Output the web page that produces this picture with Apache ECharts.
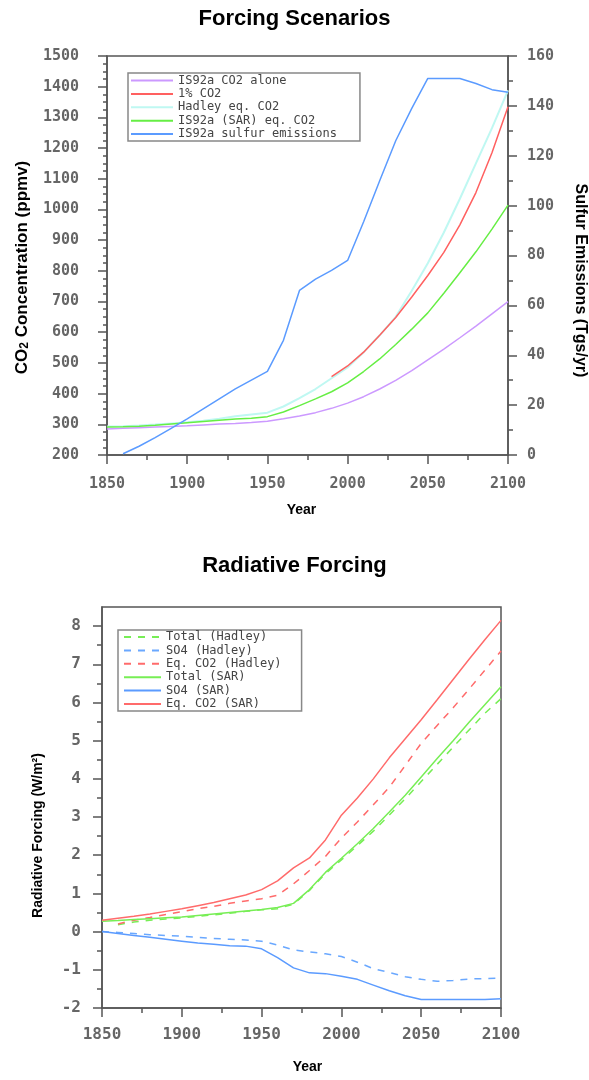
<!DOCTYPE html>
<html>
<head>
<meta charset="utf-8">
<script src="https://cdn.jsdelivr.net/npm/echarts@6/dist/echarts.min.js"></script>
<style>html,body{margin:0;padding:0;background:#fff;}#c{width:589px;height:1080px;}</style>
</head>
<body>
<div id="c"></div>
<script>
// ---------- Top chart: Forcing Scenarios ----------
const yearsTop = [1850,1860,1870,1880,1890,1900,1910,1920,1930,1940,1950,1960,1970,1980,1990,2000,2010,2020,2030,2040,2050,2060,2070,2080,2090,2100];
const co2Alone   = [285,287,289,291,293,295,298,301,303,306,310,318,327,338,352,369,390,415,443,475,510,545,582,620,660,700];
const onePctCO2  = [null,null,null,null,null,null,null,null,null,null,null,null,null,null,455,490,535,590,648,715,785,860,950,1055,1185,1335];
const hadleyEqCO2= [293,294,296,299,303,307,312,318,326,332,338,358,385,415,450,485,535,590,650,735,825,925,1035,1150,1265,1388];
const sarEqCO2   = [291,292,294,297,301,305,309,313,317,320,325,340,361,383,406,435,472,513,560,610,663,727,794,862,936,1014];
const sulfurEm   = [null,0.5,3.5,7,10.7,14.5,18.5,22.5,26.5,30,33.5,46,66,70.5,74,78,93.5,110,126,139,151,151,151,149,146.5,145.5];
const topNames = ['IS92a CO2 alone','1% CO2','Hadley eq. CO2','IS92a (SAR) eq. CO2','IS92a sulfur emissions'];
const leftTicks = [200,300,400,500,600,700,800,900,1000,1100,1200,1300,1400,1500];
const rightTicks = [0,20,40,60,80,100,120,140,160];

// ---------- Bottom chart: Radiative Forcing ----------
const yearsBot = [1850,1860,1870,1880,1890,1900,1910,1920,1930,1940,1950,1960,1970,1980,1990,2000,2010,2020,2030,2040,2050,2060,2070,2080,2090,2100];
const totalHadley = [null,0.18,0.25,0.30,0.33,0.36,0.40,0.44,0.48,0.53,0.57,0.60,0.72,1.08,1.52,1.88,2.25,2.63,3.05,3.48,3.93,4.38,4.83,5.28,5.72,6.10];
const so4Hadley   = [0,-0.02,-0.05,-0.08,-0.10,-0.12,-0.15,-0.18,-0.20,-0.22,-0.25,-0.35,-0.48,-0.53,-0.58,-0.65,-0.80,-0.97,-1.07,-1.18,-1.25,-1.30,-1.28,-1.24,-1.23,-1.22];
const eqHadley    = [null,0.20,0.30,0.37,0.45,0.52,0.60,0.66,0.74,0.80,0.86,0.95,1.25,1.60,1.97,2.45,2.87,3.32,3.78,4.35,4.93,5.40,5.86,6.35,6.85,7.35];
const totalSAR    = [0.27,0.29,0.32,0.34,0.36,0.38,0.42,0.46,0.50,0.54,0.58,0.63,0.74,1.10,1.55,1.92,2.30,2.70,3.13,3.57,4.05,4.53,5.00,5.48,5.95,6.41];
const so4SAR      = [0,-0.05,-0.10,-0.15,-0.20,-0.25,-0.30,-0.33,-0.37,-0.38,-0.45,-0.68,-0.95,-1.08,-1.10,-1.17,-1.25,-1.40,-1.55,-1.68,-1.78,-1.78,-1.78,-1.78,-1.78,-1.76];
const eqSAR       = [0.30,0.35,0.40,0.46,0.53,0.60,0.68,0.76,0.86,0.96,1.10,1.33,1.67,1.93,2.40,3.05,3.50,4.00,4.55,5.05,5.55,6.07,6.60,7.13,7.65,8.15];
const botNames = ['Total (Hadley)','SO4 (Hadley)','Eq. CO2 (Hadley)','Total (SAR)','SO4 (SAR)','Eq. CO2 (SAR)'];
const rfTicks = [-2,-1,0,1,2,3,4,5,6,7,8];

function pairs(xs, ys){ const out=[]; xs.forEach((x,i)=>{ if(ys[i]!==null && ys[i]!==undefined) out.push([x, ys[i]]); }); return out; }
const plain = v => String(v);

const AX = '#555';
const LBL = {fontFamily:'DejaVu Sans Mono', fontWeight:'bold', color:'#666', formatter:plain};

function xAxisCfg(grid, fs, margin, gap, pad){
  return {
    type:'value', gridIndex:grid, min:1850, max:2100, interval:50,
    axisLine:{show:true, onZero:false, lineStyle:{color:AX, width:1.5}},
    axisTick:{show:true, inside:false, length:9, lineStyle:{color:AX, width:1.5}},
    minorTick:{show:true, splitNumber:2, length:5, lineStyle:{color:AX, width:1.5}},
    splitLine:{show:false},
    axisLabel:Object.assign({fontSize:fs, margin:margin}, LBL),
    name:'Year', nameLocation:'middle', nameGap:gap,
    nameTextStyle:{fontFamily:'Liberation Sans', fontWeight:'bold', fontSize:14, color:'#000', padding:pad}
  };
}

const legendBase = {orient:'vertical', itemHeight:12, itemGap:1.4, backgroundColor:'#fff', borderColor:'#888',
  borderWidth:1.5, borderRadius:0, selectedMode:false, itemStyle:{opacity:0},
  textStyle:{fontFamily:'DejaVu Sans Mono', fontSize:12, color:'#444', lineHeight:12}};

const chart = echarts.init(document.getElementById('c'), null, {renderer:'canvas'});
chart.setOption({
  animation:false,
  backgroundColor:'#fff',
  title:[
    {text:'Forcing Scenarios', left:'center', top:3, textStyle:{fontFamily:'Liberation Sans', fontWeight:'bold', fontSize:22, color:'#000'}},
    {text:'Radiative Forcing', left:'center', top:550, textStyle:{fontFamily:'Liberation Sans', fontWeight:'bold', fontSize:22, color:'#000'}}
  ],
  grid:[
    {left:107, right:81, top:56, bottom:625, show:true, borderColor:AX, borderWidth:1.5, backgroundColor:'#fff', containLabel:false, outerBoundsMode:'none'},
    {left:102, right:88, top:607, bottom:72, show:true, borderColor:AX, borderWidth:1.5, backgroundColor:'#fff', containLabel:false, outerBoundsMode:'none'}
  ],
  legend:[
    Object.assign({}, legendBase, {data:topNames, left:128, top:73, itemWidth:42, padding:[1.5,23,1,2]}),
    Object.assign({}, legendBase, {data:botNames, left:118, top:630, itemWidth:37, padding:[1,20,1,5]})
  ],
  xAxis:[ xAxisCfg(0, 15, 22, 48, [0,12,0,0]), xAxisCfg(1, 16, 19, 52, [0,0,0,12]) ],
  yAxis:[
    {type:'value', gridIndex:0, position:'left', min:200, max:1500, interval:100,
     axisLine:{show:true, onZero:false, lineStyle:{color:AX, width:1.5}},
     axisTick:{show:true, length:9, lineStyle:{color:AX, width:1.5}},
     minorTick:{show:true, splitNumber:4, length:4, lineStyle:{color:AX, width:1.5}},
     splitLine:{show:false},
     axisLabel:Object.assign({fontSize:15, margin:28, customValues:leftTicks}, LBL),
     name:'{n|CO}{s|2}{n| Concentration (ppmv)}', nameLocation:'middle', nameGap:76,
     nameTextStyle:{padding:[0,24,0,0], rich:{
       n:{fontFamily:'Liberation Sans', fontWeight:'bold', fontSize:17, color:'#000', lineHeight:18},
       s:{fontFamily:'Liberation Sans', fontWeight:'bold', fontSize:12, color:'#000', lineHeight:8, verticalAlign:'bottom'}}}},
    {type:'value', gridIndex:0, position:'right', min:0, max:160, interval:20,
     axisLine:{show:true, onZero:false, lineStyle:{color:AX, width:1.5}},
     axisTick:{show:true, length:9, lineStyle:{color:AX, width:1.5}},
     minorTick:{show:true, splitNumber:2, length:5, lineStyle:{color:AX, width:1.5}},
     splitLine:{show:false},
     axisLabel:Object.assign({fontSize:15, margin:19, customValues:rightTicks}, LBL),
     name:'Sulfur Emissions (Tgs/yr)', nameLocation:'middle', nameGap:64, nameRotate:-90,
     nameTextStyle:{fontFamily:'Liberation Sans', fontWeight:'bold', fontSize:16, color:'#000', padding:[0,0,0,50]}},
    {type:'value', gridIndex:1, position:'left', min:-2, max:8.5, interval:1,
     axisLine:{show:true, onZero:false, lineStyle:{color:AX, width:1.5}},
     axisTick:{show:true, length:9, customValues:rfTicks, lineStyle:{color:AX, width:1.5}},
     minorTick:{show:true, splitNumber:2, length:5, lineStyle:{color:AX, width:1.5}},
     splitLine:{show:false},
     axisLabel:Object.assign({fontSize:16, margin:21, customValues:rfTicks}, LBL),
     name:'Radiative Forcing (W/m²)', nameLocation:'middle', nameGap:57,
     nameTextStyle:{fontFamily:'Liberation Sans', fontWeight:'bold', fontSize:14, color:'#000', padding:[0,56,0,0]}}
  ],
  series:[
    {name:topNames[0], type:'line', xAxisIndex:0, yAxisIndex:0, symbol:'none', data:pairs(yearsTop, co2Alone), lineStyle:{color:'#cc99ff', width:1.5}, itemStyle:{color:'#cc99ff'}, z:2},
    {name:topNames[1], type:'line', xAxisIndex:0, yAxisIndex:0, symbol:'none', data:pairs(yearsTop, onePctCO2), lineStyle:{color:'#ff6060', width:1.5}, itemStyle:{color:'#ff6060'}, z:4},
    {name:topNames[2], type:'line', xAxisIndex:0, yAxisIndex:0, symbol:'none', data:pairs(yearsTop, hadleyEqCO2), lineStyle:{color:'#bff8f2', width:2}, itemStyle:{color:'#bff8f2'}, z:3},
    {name:topNames[3], type:'line', xAxisIndex:0, yAxisIndex:0, symbol:'none', data:pairs(yearsTop, sarEqCO2), lineStyle:{color:'#66ee44', width:1.5}, itemStyle:{color:'#66ee44'}, z:3},
    {name:topNames[4], type:'line', xAxisIndex:0, yAxisIndex:1, symbol:'none', data:pairs(yearsTop, sulfurEm), lineStyle:{color:'#5b9bff', width:1.5}, itemStyle:{color:'#5b9bff'}, z:3},

    {name:botNames[0], type:'line', xAxisIndex:1, yAxisIndex:2, symbol:'none', data:pairs(yearsBot, totalHadley), lineStyle:{color:'#77ee55', width:1.5, type:[7,7]}, itemStyle:{color:'#77ee55'}},
    {name:botNames[1], type:'line', xAxisIndex:1, yAxisIndex:2, symbol:'none', data:pairs(yearsBot, so4Hadley), lineStyle:{color:'#6aa8ff', width:1.5, type:[7,7]}, itemStyle:{color:'#6aa8ff'}},
    {name:botNames[2], type:'line', xAxisIndex:1, yAxisIndex:2, symbol:'none', data:pairs(yearsBot, eqHadley), lineStyle:{color:'#ff6b6b', width:1.5, type:[7,7]}, itemStyle:{color:'#ff6b6b'}},
    {name:botNames[3], type:'line', xAxisIndex:1, yAxisIndex:2, symbol:'none', data:pairs(yearsBot, totalSAR), lineStyle:{color:'#77ee55', width:1.5}, itemStyle:{color:'#77ee55'}},
    {name:botNames[4], type:'line', xAxisIndex:1, yAxisIndex:2, symbol:'none', data:pairs(yearsBot, so4SAR), lineStyle:{color:'#5b9bff', width:1.5}, itemStyle:{color:'#5b9bff'}},
    {name:botNames[5], type:'line', xAxisIndex:1, yAxisIndex:2, symbol:'none', data:pairs(yearsBot, eqSAR), lineStyle:{color:'#ff6b6b', width:1.5}, itemStyle:{color:'#ff6b6b'}}
  ]
});
</script>
</body>
</html>
